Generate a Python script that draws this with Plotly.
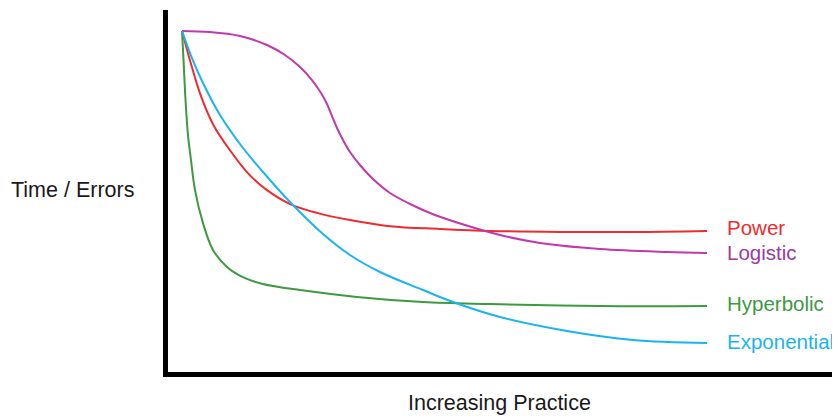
import plotly.graph_objects as go

# Learning-curve shapes (practice 0..100, time/errors 0..100)
power_x = [0, 1.5, 3.6, 5.9, 9.1, 12.9, 16.2, 20.6, 25.7, 32, 39.6, 49.1, 58.7, 72, 85.9, 100]
power_y = [100, 91.5, 80.9, 72.6, 65, 57.6, 53.2, 49.1, 46.5, 44.4, 42.6, 41.8, 41.2, 40.9, 40.9, 41.2]

logistic_x = [0, 5.33, 11.05, 16.19, 19.62, 22.48, 24.76, 26.48, 27.62, 28.57, 29.52, 30.67, 32.0,
              33.9, 36.38, 39.62, 43.43, 48.19, 53.9, 60.57, 68.19, 79.62, 92.38, 100]
logistic_y = [100, 99.71, 98.53, 95.88, 92.94, 89.41, 85.59, 81.76, 78.53, 75.0, 71.47, 67.94, 64.41,
              60.59, 56.47, 52.35, 49.12, 45.88, 42.94, 40.0, 37.65, 35.88, 35.0, 34.71]

hyperbolic_x = [0, 0.29, 0.67, 1.14, 1.71, 2.48, 4.0, 5.9, 8.57, 11.6, 15.4, 22.5, 33.3, 45.9, 58.7, 79.6, 100]
hyperbolic_y = [100, 91.5, 79.7, 69.4, 62.1, 53.2, 43.5, 35.6, 30.6, 27.6, 25.6, 23.8, 21.8, 20.3, 19.7, 19.1, 19.1]

exponential_x = [0, 1.9, 4.0, 7.24, 11.62, 16.76, 20.57, 26.86, 32.0, 37.71, 45.9, 51.62, 60.57, 73.33, 85.9, 100]
exponential_y = [100, 92.06, 84.71, 75.29, 65.59, 56.18, 49.71, 40.29, 34.12, 29.12, 23.82, 20.29, 15.88, 11.76, 9.12, 8.24]

series_names = ["Power", "Logistic", "Hyperbolic", "Exponential"]
line_colors = ["#ee2b2f", "#c03aa9", "#3d9a3f", "#1ab4ee"]
text_colors = ["#ee2b2f", "#9b3aa0", "#3d9a45", "#1ab4ee"]
label_shift = [3, 1, 3, 2]

xs = [power_x, logistic_x, hyperbolic_x, exponential_x]
ys = [power_y, logistic_y, hyperbolic_y, exponential_y]

FONT = "Liberation Sans, Arial, sans-serif"

fig = go.Figure()
for name, x, y, c in zip(series_names, xs, ys, line_colors):
    fig.add_trace(go.Scatter(x=x, y=y, mode="lines", name=name,
                             line=dict(color=c, width=2, shape="spline", smoothing=1.0),
                             hoverinfo="skip"))

annotations = []
for name, x, y, c, s in zip(series_names, xs, ys, text_colors, label_shift):
    annotations.append(dict(x=x[-1] + 3.5, y=y[-1], xref="x", yref="y", text=name,
                            showarrow=False, xanchor="left", yanchor="middle",
                            yshift=s, font=dict(family=FONT, size=20.5, color=c)))

annotations.append(dict(x=0, y=0.503, xref="paper", yref="paper", text="Time / Errors",
                        showarrow=False, xanchor="right", yanchor="middle", xshift=-32,
                        font=dict(family=FONT, size=21.5, color="#1a1a1a")))
annotations.append(dict(x=0.4926, y=0, xref="paper", yref="paper", text="Increasing Practice",
                        showarrow=False, xanchor="center", yanchor="middle", yshift=-31,
                        font=dict(family=FONT, size=21.5, color="#1a1a1a")))

fig.update_layout(
    width=832, height=408,
    margin=dict(l=160, r=0, t=2, b=44),
    paper_bgcolor="white", plot_bgcolor="white",
    showlegend=False,
    annotations=annotations,
    xaxis=dict(range=[-2.667, 125.33], showgrid=False, zeroline=False,
               showticklabels=False, ticks="", showline=True, linewidth=5, linecolor="black"),
    yaxis=dict(range=[-0.29, 106.18], showgrid=False, zeroline=False,
               showticklabels=False, ticks="", showline=True, linewidth=5, linecolor="black"),
)

fig.write_html("out.html")
